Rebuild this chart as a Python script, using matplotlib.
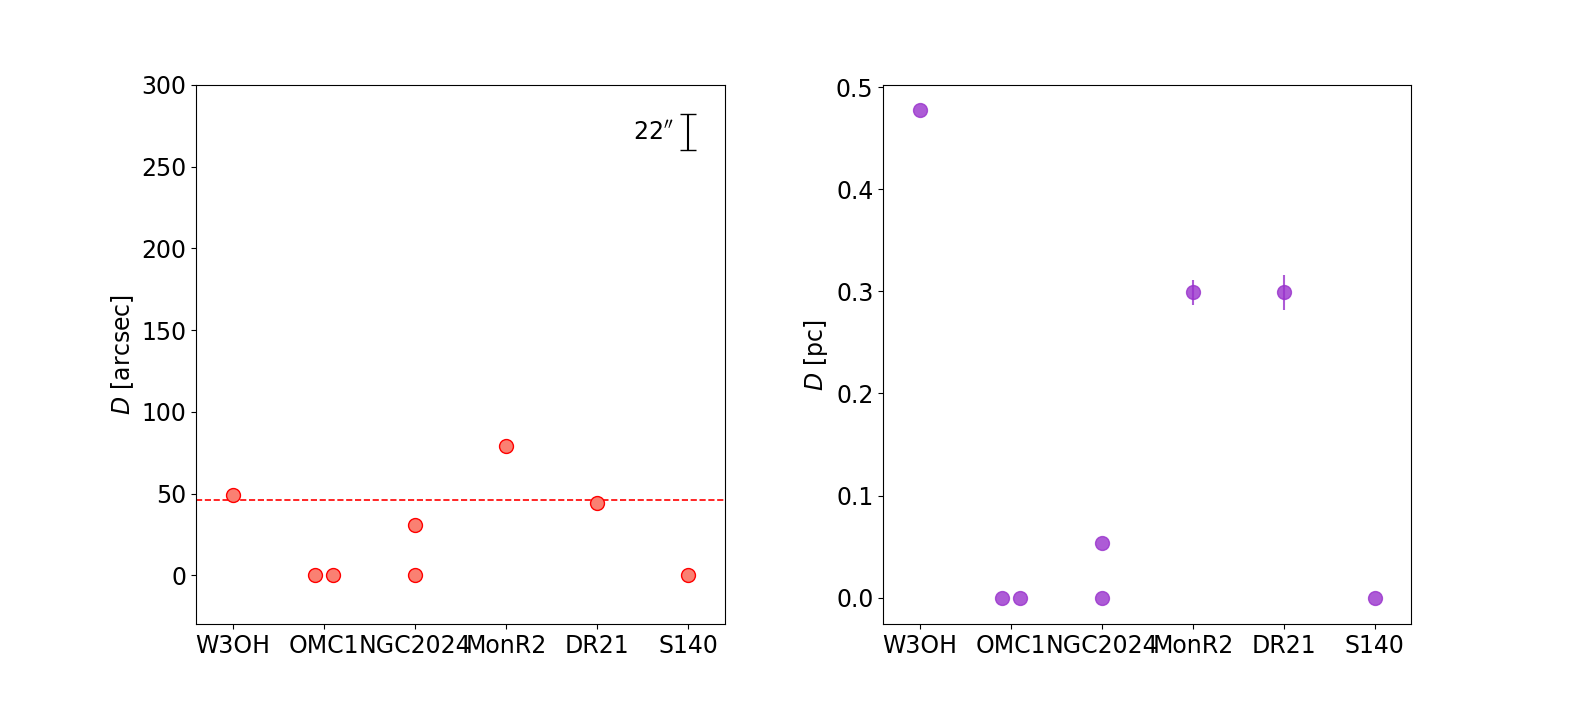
import matplotlib
matplotlib.use("Agg")
import matplotlib.pyplot as plt

sources = ["W3OH", "OMC1", "NGC2024", "MonR2", "DR21", "S140"]

# separations (x position index, value)
x_pos = [0, 0.9, 1.1, 2, 2, 3, 4, 5]
d_arcsec = [49, 0, 0, 31, 0, 79, 44, 0]
d_pc = [0.477, 0, 0, 0.054, 0, 0.299, 0.299, 0]
d_pc_err = [0, 0, 0, 0, 0, 0.012, 0.017, 0]
mean_arcsec = 46
beam = 22

plt.rcParams["font.size"] = 17
fig, ax = plt.subplots(1, 2, figsize=(15.84, 7.2), dpi=100)
fig.subplots_adjust(left=0.124, right=0.891, bottom=0.133, top=0.882, wspace=0.3)

ax[0].scatter(x_pos, d_arcsec, s=100, facecolor="salmon", edgecolor="red", zorder=3)
ax[0].axhline(mean_arcsec, color="red", linestyle="--", linewidth=1.2)
ax[0].errorbar([5], [271], yerr=beam / 2, color="black", capsize=6, linewidth=1.5)
ax[0].text(4.85, 271, "22$''$", ha="right", va="center")
ax[0].set_ylim(-30, 300)
ax[0].set_xlim(-0.4, 5.4)
ax[0].set_xticks(range(len(sources)))
ax[0].set_xticklabels(sources)
ax[0].set_ylabel("$D$ [arcsec]")

ax[1].errorbar(x_pos, d_pc, yerr=d_pc_err, fmt="o", markersize=10,
               color="darkorchid", alpha=0.8, linestyle="none")
ax[1].set_ylim(-0.026, 0.502)
ax[1].set_xlim(-0.4, 5.4)
ax[1].set_xticks(range(len(sources)))
ax[1].set_xticklabels(sources)
ax[1].set_ylabel("$D$ [pc]")

plt.savefig("out.png", dpi=100)
